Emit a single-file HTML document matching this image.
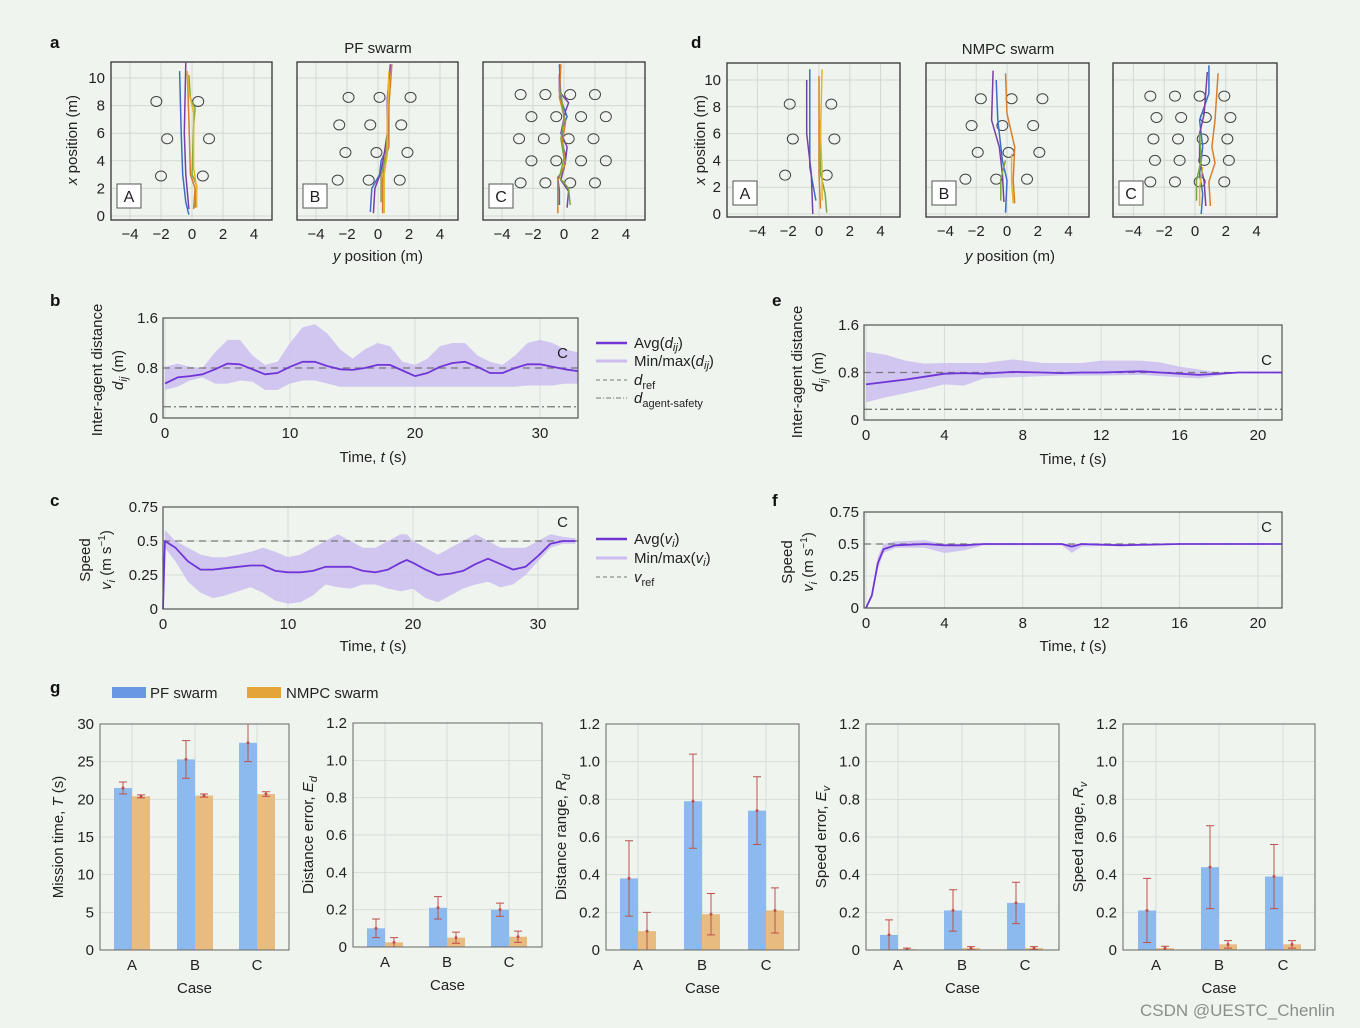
<!DOCTYPE html>
<html><head><meta charset="utf-8"><style>
html,body{margin:0;padding:0;background:#eff4ef;}
svg{display:block;font-family:"Liberation Sans",sans-serif;}
</style></head><body>
<svg id="fig" width="1360" height="1028" viewBox="0 0 1360 1028" xmlns="http://www.w3.org/2000/svg">
<rect x="0" y="0" width="1360" height="1028" fill="#eff4ef"/>
</svg>
<script>
// ---------- DATA ----------
const bT=[0,1,2,3,4,5,6,7,8,9,10,11,12,13,14,15,16,17,18,19,20,21,22,23,24,25,26,27,28,29,30,31,32,33];
const bAvg=[0.55,0.65,0.67,0.7,0.78,0.87,0.86,0.78,0.7,0.72,0.82,0.9,0.9,0.83,0.78,0.77,0.8,0.85,0.85,0.76,0.67,0.72,0.82,0.88,0.9,0.82,0.72,0.72,0.8,0.86,0.86,0.82,0.78,0.75];
const bMax=[0.82,0.87,0.82,0.8,1.05,1.25,1.25,1.0,0.85,0.9,1.2,1.45,1.5,1.35,1.1,0.95,1.1,1.2,1.15,0.9,0.85,0.95,1.15,1.2,1.2,1.0,0.9,0.85,1.0,1.2,1.25,1.2,1.1,1.05];
const bMin=[0.45,0.5,0.6,0.65,0.55,0.55,0.6,0.58,0.45,0.45,0.55,0.6,0.6,0.55,0.5,0.5,0.5,0.5,0.5,0.5,0.5,0.5,0.5,0.5,0.5,0.5,0.5,0.5,0.5,0.52,0.52,0.52,0.55,0.55];
const cT=[0,0.15,1,2,3,4,5,6,7,8,9,10,11,12,13,14,15,16,17,18,19,19.5,20,21,22,23,24,25,26,27,28,29,30,31,32,33];
const cAvg=[0,0.5,0.45,0.35,0.29,0.29,0.3,0.31,0.32,0.32,0.28,0.27,0.27,0.28,0.31,0.31,0.31,0.28,0.27,0.29,0.34,0.36,0.34,0.29,0.25,0.26,0.28,0.33,0.37,0.33,0.29,0.31,0.39,0.48,0.5,0.5];
const cMax=[0,0.58,0.5,0.45,0.4,0.38,0.38,0.4,0.42,0.45,0.42,0.38,0.4,0.45,0.5,0.55,0.5,0.45,0.45,0.5,0.55,0.55,0.5,0.45,0.4,0.45,0.5,0.55,0.5,0.45,0.45,0.45,0.5,0.55,0.53,0.52];
const cMin=[0,0.45,0.35,0.2,0.12,0.08,0.1,0.13,0.16,0.12,0.06,0.04,0.05,0.1,0.18,0.16,0.15,0.18,0.18,0.15,0.13,0.14,0.15,0.08,0.05,0.1,0.15,0.18,0.2,0.16,0.18,0.25,0.35,0.45,0.48,0.48];
const eT=[0,1,2,3,4,5,6,7.5,9,10,11,12,14,15,16,17,18,19,20,21.2];
const eAvg=[0.6,0.64,0.68,0.73,0.78,0.79,0.78,0.81,0.8,0.79,0.8,0.8,0.82,0.8,0.78,0.76,0.78,0.8,0.8,0.8];
const eMax=[1.15,1.1,1.0,0.95,0.96,0.96,0.96,1.02,0.96,0.96,0.96,1.0,1.0,0.97,0.9,0.85,0.8,0.8,0.8,0.8];
const eMin=[0.3,0.38,0.45,0.52,0.6,0.58,0.7,0.72,0.74,0.75,0.75,0.75,0.76,0.74,0.72,0.7,0.75,0.8,0.8,0.8];
const fT=[0,0.3,0.6,0.9,1.5,3,4,5,6,10,10.5,11,13,16,21.2];
const fAvg=[0,0.1,0.35,0.46,0.49,0.5,0.49,0.49,0.5,0.5,0.48,0.5,0.49,0.5,0.5];
const fMax=[0,0.12,0.4,0.5,0.52,0.53,0.5,0.5,0.5,0.5,0.5,0.5,0.5,0.5,0.5];
const fMin=[0,0.08,0.3,0.43,0.47,0.47,0.43,0.45,0.49,0.49,0.43,0.48,0.49,0.5,0.5];

const cases=["A","B","C"];
const tPF=[21.5,25.3,27.5], tPFe=[0.8,2.5,2.5], tNM=[20.4,20.5,20.7], tNMe=[0.2,0.2,0.3];
const edPF=[0.10,0.21,0.20], edPFe=[0.05,0.06,0.035], edNM=[0.025,0.05,0.055], edNMe=[0.025,0.03,0.03];
const rdPF=[0.38,0.79,0.74], rdPFe=[0.2,0.25,0.18], rdNM=[0.10,0.19,0.21], rdNMe=[0.1,0.11,0.12];
const evPF=[0.08,0.21,0.25], evPFe=[0.08,0.11,0.11], evNM=[0.005,0.01,0.01], evNMe=[0.005,0.008,0.008];
const rvPF=[0.21,0.44,0.39], rvPFe=[0.17,0.22,0.17], rvNM=[0.01,0.03,0.03], rvNMe=[0.01,0.02,0.02];

const obsA=[[-2.3,8.3],[0.4,8.3],[-1.6,5.6],[1.1,5.6],[-2,2.9],[0.7,2.9]];
const obsB=[[-1.9,8.6],[0.1,8.6],[2.1,8.6],[-2.5,6.6],[-0.5,6.6],[1.5,6.6],[-2.1,4.6],[-0.1,4.6],[1.9,4.6],[-2.6,2.6],[-0.6,2.6],[1.4,2.6]];
const obsC=[[-2.8,8.8],[-1.2,8.8],[0.4,8.8],[2.0,8.8],[-2.1,7.2],[-0.5,7.2],[1.1,7.2],[2.7,7.2],[-2.9,5.6],[-1.3,5.6],[0.3,5.6],[1.9,5.6],[-2.1,4.0],[-0.5,4.0],[1.1,4.0],[2.7,4.0],[-2.8,2.4],[-1.2,2.4],[0.4,2.4],[2.0,2.4]];
const obsDA=[[-1.9,8.2],[0.8,8.2],[-1.7,5.6],[1.0,5.6],[-2.2,2.9],[0.5,2.9]];
const obsDB=[[-1.7,8.6],[0.3,8.6],[2.3,8.6],[-2.3,6.6],[-0.3,6.6],[1.7,6.6],[-1.9,4.6],[0.1,4.6],[2.1,4.6],[-2.7,2.6],[-0.7,2.6],[1.3,2.6]];
const obsDC=[[-2.9,8.8],[-1.3,8.8],[0.3,8.8],[1.9,8.8],[-2.5,7.2],[-0.9,7.2],[0.7,7.2],[2.3,7.2],[-2.7,5.6],[-1.1,5.6],[0.5,5.6],[2.1,5.6],[-2.6,4.0],[-1.0,4.0],[0.6,4.0],[2.2,4.0],[-2.9,2.4],[-1.3,2.4],[0.3,2.4],[1.9,2.4]];
const trA=[[[-0.2,0.1],[-0.4,1],[-0.6,3],[-0.7,6],[-0.8,10.5]],[[-0.2,0.5],[-0.4,3],[-0.5,6],[-0.4,11.1]],[[0.1,0.5],[0.2,2],[-0.1,3],[-0.2,7],[-0.3,10.4]],[[0.2,0.6],[0.3,2.2],[0,3],[0.1,6.5],[0.2,7.8],[-0.1,8.5],[-0.2,10.2]],[[0.3,0.6],[0.3,2],[0.1,3.5],[0.1,7.5],[-0.2,9],[-0.3,10.5]]];
const trB=[[[-0.5,0.3],[-0.4,2],[0.1,3],[0.2,4],[0.6,5],[0.7,8]],[[-0.3,0.2],[-0.2,2],[0.2,3.2],[0.4,4.5],[0.6,6],[0.6,8.5],[0.8,11]],[[0.3,0.2],[0.3,2.5],[0.4,4],[0.7,5],[0.7,8],[0.9,11]],[[0.2,1],[0.2,3],[0.5,4.2],[0.6,6]],[[0.4,0.2],[0.4,3],[0.6,4.5],[0.6,7],[0.7,10.5]]];
const trC=[[[-0.3,0.8],[-0.3,1.8],[-0.4,2.8],[0,3.4],[0.1,4.4],[-0.1,5.2],[-0.1,6.4],[0.2,7.2],[-0.2,8.4],[-0.3,11]],[[0.2,0.6],[0.3,1.8],[-0.2,2.6],[0.1,4],[0.2,5],[-0.2,6],[0.1,7.6],[0.3,8.2],[-0.3,9],[-0.3,10.3]],[[-0.4,0.2],[-0.4,2.6],[0.1,3.8],[-0.1,5.4],[0.1,6.8],[-0.3,8.6],[-0.2,11]],[[0.4,0.8],[0.3,2],[-0.3,2.8],[0,4.2],[-0.2,5.6],[0,7],[-0.2,9]]];
const trDA=[[[-0.2,1],[-0.6,3.5],[-0.6,8],[-0.6,10.8]],[[-0.4,0],[-0.5,3],[-0.8,6],[-0.8,10]],[[0.1,0.4],[0,3],[0,10.3]],[[0.5,0.1],[0.4,1.5],[0.1,3],[0.1,7]],[[0.2,1],[0.2,3],[0.1,6],[0.2,10.8]]];
const trDB=[[[-0.1,0.1],[0,2.5],[-0.3,4],[-0.6,7],[-0.7,10]],[[-0.2,0.9],[-0.3,3],[-0.5,5],[-1.0,7],[-0.9,10.7]],[[0.5,0.8],[0.4,2.5],[0.5,5],[0,7.5],[-0.1,10.5]],[[-0.4,1],[-0.4,2.6],[-0.1,4]],[[0.4,0.8],[0.3,2.5],[0.3,4.5]]];
const trDC=[[[0.4,0],[0.5,1.5],[0.3,3],[0.5,5],[0.3,7],[0.9,9],[0.9,11.1]],[[0.7,0.6],[0.6,2.4],[0.3,4],[0.3,6],[0.6,7.5],[0.8,10.6]],[[1.0,0.6],[0.9,2.4],[1.3,3.8],[1.1,5],[1.3,7],[1.5,10.5]],[[0.1,1],[0.1,2.5],[0.4,4],[0.3,6]],[[0.3,0.6],[0.3,2],[0.5,3.5]]];

// ---------- HELPERS ----------
const NS="http://www.w3.org/2000/svg";
const svg=document.getElementById('fig');
function E(tag,a,p){const el=document.createElementNS(NS,tag);for(const k in a)el.setAttribute(k,a[k]);(p||svg).appendChild(el);return el;}
function T(x,y,s,a,p){const el=E('text',Object.assign({x:x,y:y,'font-size':15,fill:'#222'},a||{}),p);el.innerHTML=s;return el;}
function grp(name){const g=E('g',{});return g;}

// panel letters
[["a",50,48],["d",691,48],["b",50,306],["c",50,506],["e",772,306],["f",772,506],["g",50,693]].forEach(function(l){
  const el=T(l[1],l[2],l[0],{'font-weight':'bold','font-size':17,fill:'#111'});
  
  
});

// ---------- TRAJECTORY PANELS ----------
const trajColors=['#3b6fc6','#7a3fa3','#d97e2c','#79a83b','#e2b52a'];
function traj(name,x0,x1,yTop,yBot,zx,zyPix,ppmX,ppmY,obs,tr,letter,showY){
  const g=grp(name);
  const sx=function(v){return zx+v*ppmX;}, sy=function(v){return zyPix-v*ppmY;};
  [-4,-2,0,2,4].forEach(function(v){const l=E('line',{x1:sx(v),x2:sx(v),y1:yTop,y2:yBot,stroke:'#d3d8d3','stroke-width':1},g);
    const t=T(sx(v),yBot+19,v<0?'\u2212'+(-v):v,{'text-anchor':'middle'},g);});
  [0,2,4,6,8,10].forEach(function(v){const l=E('line',{x1:x0,x2:x1,y1:sy(v),y2:sy(v),stroke:'#d3d8d3','stroke-width':1},g);
    if(showY){const t=T(x0-6,sy(v)+5,v,{'text-anchor':'end'},g);}});
  obs.forEach(function(o){const c=E('ellipse',{cx:sx(o[0]),cy:sy(o[1]),rx:5.5,ry:5,fill:'none',stroke:'#444','stroke-width':1},g);});
  tr.forEach(function(path,i){const d=path.map(function(p,j){return (j?'L':'M')+sx(p[0]).toFixed(1)+','+sy(p[1]).toFixed(1);}).join('');
    const pl=E('path',{d:d,fill:'none',stroke:trajColors[i%5],'stroke-width':1.5},g);});
  const bx=E('rect',{x:x0+6,y:yBot-36,width:24,height:24,fill:'#fff',stroke:'#555','stroke-width':1},g);
  const bt=T(x0+18,yBot-18,letter,{'text-anchor':'middle','font-size':16},g);
  const fr=E('rect',{x:x0,y:yTop,width:x1-x0,height:yBot-yTop,fill:'none',stroke:'#333','stroke-width':1.3},g);
}
traj('traj-pf-a',111,272,62,220,192,216,15.5,13.8,obsA,trA,'A',true);
traj('traj-pf-b',297,458,62,220,378,216,15.5,13.8,obsB,trB,'B',false);
traj('traj-pf-c',483,645,62,220,564,216,15.5,13.8,obsC,trC,'C',false);
traj('traj-nmpc-a',727,900,63,217,819,214,15.4,13.4,obsDA,trDA,'A',true);
traj('traj-nmpc-b',926,1089,63,217,1007,214,15.4,13.4,obsDB,trDB,'B',false);
traj('traj-nmpc-c',1113,1277,63,217,1195,214,15.4,13.4,obsDC,trDC,'C',false);
[[378,53,'PF swarm','title-pf-swarm'],[1008,54,'NMPC swarm','title-nmpc-swarm'],[378,261,'<tspan font-style="italic">y</tspan> position (m)','x-axis-title-a'],[1010,261,'<tspan font-style="italic">y</tspan> position (m)','x-axis-title-d']].forEach(function(a){
  const t=T(a[0],a[1],a[2],{'text-anchor':'middle'});});
[[77,140,'y-axis-title-a'],[705,140,'y-axis-title-d']].forEach(function(a){
  const t=T(a[0],a[1],'<tspan font-style="italic">x</tspan> position (m)',{'text-anchor':'middle',transform:'rotate(-90 '+a[0]+' '+a[1]+')'});});

// ---------- TIME SERIES ----------
function ts(name,x0,x1,yTop,yBot,t0px,pps,ymax,yticks,xticks,tArr,avg,mx,mn,refs){
  const g=grp(name);
  const sx=function(v){return t0px+v*pps;}, sy=function(v){return yBot-(v/ymax)*(yBot-yTop);};
  xticks.forEach(function(v){const l=E('line',{x1:sx(v),x2:sx(v),y1:yTop,y2:yBot,stroke:'#d8ddd8'},g);
    const t=T(sx(v),yBot+20,v,{'text-anchor':'middle'},g);});
  yticks.forEach(function(v){const l=E('line',{x1:x0,x2:x1,y1:sy(v),y2:sy(v),stroke:'#d8ddd8'},g);
    const t=T(x0-5,sy(v)+5,v,{'text-anchor':'end'},g);});
  let d='';tArr.forEach(function(t,i){d+=(i?'L':'M')+sx(t).toFixed(1)+','+sy(mx[i]).toFixed(1);});
  for(let i=tArr.length-1;i>=0;i--)d+='L'+sx(tArr[i]).toFixed(1)+','+sy(mn[i]).toFixed(1);
  const band=E('path',{d:d+'Z',fill:'#cbbdf0','fill-opacity':0.85},g);
  refs.forEach(function(r){const l=E('line',{x1:x0,x2:x1,y1:sy(r[0]),y2:sy(r[0]),stroke:'#777','stroke-width':1.3,'stroke-dasharray':r[1]},g);});
  const ad=tArr.map(function(t,i){return (i?'L':'M')+sx(t).toFixed(1)+','+sy(avg[i]).toFixed(1);}).join('');
  const al=E('path',{d:ad,fill:'none',stroke:'#7035d6','stroke-width':1.8,'stroke-linejoin':'round'},g);
  const fr=E('rect',{x:x0,y:yTop,width:x1-x0,height:yBot-yTop,fill:'none',stroke:'#555','stroke-width':1.2},g);
  const c=T(x1-10,yTop+(name.indexOf('speed')>=0?20:40),'C',{'text-anchor':'end'},g);
}
ts('pf-distance-chart',163,578,318,418,165,12.5,1.6,[0,0.8,1.6],[0,10,20,30],bT,bAvg,bMax,bMin,[[0.8,'7,5','d-ref-line'],[0.18,'8,3,2,3','d-safety-line']]);
ts('pf-speed-chart',163,578,507,609,163,12.5,0.75,[0,0.25,0.5,0.75],[0,10,20,30],cT,cAvg,cMax,cMin,[[0.5,'7,5','v-ref-line']]);
ts('nmpc-distance-chart',864,1282,325,420,866,19.6,1.6,[0,0.8,1.6],[0,4,8,12,16,20],eT,eAvg,eMax,eMin,[[0.8,'7,5','d-ref-line'],[0.18,'8,3,2,3','d-safety-line']]);
ts('nmpc-speed-chart',864,1282,512,608,866,19.6,0.75,[0,0.25,0.5,0.75],[0,4,8,12,16,20],fT,fAvg,fMax,fMin,[[0.5,'7,5','v-ref-line']]);
[[373,462],[373,651],[1073,464],[1073,651]].forEach(function(p){const t=T(p[0],p[1],'Time, <tspan font-style="italic">t</tspan> (s)',{'text-anchor':'middle'});});
[[102,370,'Inter-agent distance','distance-axis-title'],[123,370,'<tspan font-style="italic">d<tspan font-size="11" dy="4">ij</tspan></tspan><tspan dy="-4"> (m)</tspan>','distance-axis-symbol'],[90,560,'Speed','speed-axis-title'],[111,560,'<tspan font-style="italic">v<tspan font-size="11" dy="4">i</tspan></tspan><tspan dy="-4"> (m s</tspan><tspan font-size="10" dy="-6">\u22121</tspan><tspan dy="6">)</tspan>','speed-axis-symbol'],
 [802,372,'Inter-agent distance','distance-axis-title'],[823,372,'<tspan font-style="italic">d<tspan font-size="11" dy="4">ij</tspan></tspan><tspan dy="-4"> (m)</tspan>','distance-axis-symbol'],[792,562,'Speed','speed-axis-title'],[813,562,'<tspan font-style="italic">v<tspan font-size="11" dy="4">i</tspan></tspan><tspan dy="-4"> (m s</tspan><tspan font-size="10" dy="-6">\u22121</tspan><tspan dy="6">)</tspan>','speed-axis-symbol']].forEach(function(a){
  const t=T(a[0],a[1],a[2],{'text-anchor':'middle',transform:'rotate(-90 '+a[0]+' '+a[1]+')'});});

// legends
function legItem(x,y,kind,label){
  const g=grp('legend-entry');
  let l;
  if(kind==='avg')l=E('line',{x1:x,x2:x+31,y1:y,y2:y,stroke:'#7035d6','stroke-width':2.5},g);
  else if(kind==='band')l=E('line',{x1:x,x2:x+31,y1:y,y2:y,stroke:'#cbbdf0','stroke-width':3},g);
  else if(kind==='dash')l=E('line',{x1:x,x2:x+31,y1:y,y2:y,stroke:'#777','stroke-width':1,'stroke-dasharray':'4,3'},g);
  else l=E('line',{x1:x,x2:x+31,y1:y,y2:y,stroke:'#777','stroke-width':1,'stroke-dasharray':'5,2,1,2'},g);
  
  const t=T(x+38,y+5,label,{},g);
}
legItem(596,343,'avg','Avg(<tspan font-style="italic">d<tspan font-size="11" dy="3">ij</tspan></tspan><tspan dy="-3">)</tspan>');
legItem(596,361,'band','Min/max(<tspan font-style="italic">d<tspan font-size="11" dy="3">ij</tspan></tspan><tspan dy="-3">)</tspan>');
legItem(596,380,'dash','<tspan font-style="italic">d</tspan><tspan font-size="11" dy="4">ref</tspan>');
legItem(596,398,'dashdot','<tspan font-style="italic">d</tspan><tspan font-size="11" dy="4">agent-safety</tspan>');
legItem(596,539,'avg','Avg(<tspan font-style="italic">v<tspan font-size="11" dy="3">i</tspan></tspan><tspan dy="-3">)</tspan>');
legItem(596,558,'band','Min/max(<tspan font-style="italic">v<tspan font-size="11" dy="3">i</tspan></tspan><tspan dy="-3">)</tspan>');
legItem(596,577,'dash','<tspan font-style="italic">v</tspan><tspan font-size="11" dy="4">ref</tspan>');

// ---------- BAR CHARTS ----------
(function(){
  const g=grp('bar-legend');
  let r=E('rect',{x:112,y:687,width:34,height:11,fill:'#6a97e3'},g);
  let t=T(150,698,'PF swarm',{},g);
  r=E('rect',{x:247,y:687,width:34,height:11,fill:'#e3a53a'},g);
  t=T(286,698,'NMPC swarm',{},g);
})();
function bars(name,x0,x1,yTop,yBot,ymax,yticks,fmt,centers,pf,pfe,nm,nme,ylab,ylx){
  const g=grp(name);
  const sy=function(v){return yBot-(v/ymax)*(yBot-yTop);};
  centers.forEach(function(c){const l=E('line',{x1:c,x2:c,y1:yTop,y2:yBot,stroke:'#d8ddd8'},g);});
  yticks.forEach(function(v){const l=E('line',{x1:x0,x2:x1,y1:sy(v),y2:sy(v),stroke:'#d8ddd8'},g);
    const t=T(x0-6,sy(v)+5,fmt(v),{'text-anchor':'end'},g);});
  const bw=18;
  cases.forEach(function(cs,i){
    const c=centers[i];
    let b=E('rect',{x:c-bw,y:sy(pf[i]),width:bw,height:yBot-sy(pf[i]),fill:'#8dbaee'},g);
    b=E('rect',{x:c,y:sy(nm[i]),width:bw,height:yBot-sy(nm[i]),fill:'#e8bb80'},g);
    [[c-bw/2,pf[i],pfe[i]],[c+bw/2,nm[i],nme[i]]].forEach(function(e){
      const lo=Math.max(0,e[1]-e[2]),hi=Math.min(ymax,e[1]+e[2]);
      const p=E('path',{d:'M'+e[0]+','+sy(lo)+'V'+sy(hi)+'M'+(e[0]-4)+','+sy(lo)+'h8M'+(e[0]-4)+','+sy(hi)+'h8',stroke:'#c0504d','stroke-width':1,fill:'none'},g);
      const d=E('circle',{cx:e[0],cy:sy(e[1]),r:1.5,fill:'#c0504d'},g);
    });
    const t=T(c,yBot+20,cs,{'text-anchor':'middle'},g);
  });
  const fr=E('rect',{x:x0,y:yTop,width:x1-x0,height:yBot-yTop,fill:'none',stroke:'#666','stroke-width':1},g);
  const ct=T((x0+x1)/2,yBot+43,'Case',{'text-anchor':'middle'},g);
  const yc=(yTop+yBot)/2;
  const yt=T(ylx,yc,ylab,{'text-anchor':'middle',transform:'rotate(-90 '+ylx+' '+yc+')'},g);
}
const f1=function(v){return v===0?'0':v.toFixed(1);};
const sub=function(a,b){return a+'<tspan font-style="italic">'+b[0]+'<tspan font-size="11" dy="4">'+b[1]+'</tspan></tspan>';};
bars('mission-time-chart',100,289,724,950,30,[0,5,10,15,20,25,30],function(v){return v;},[132,195,257],tPF,tPFe,tNM,tNMe,'Mission time, <tspan font-style="italic">T</tspan> (s)',63);
bars('distance-error-chart',353,542,723,947,1.2,[0,0.2,0.4,0.6,0.8,1.0,1.2],f1,[385,447,509],edPF,edPFe,edNM,edNMe,sub('Distance error, ','Ed'),313);
bars('distance-range-chart',606,799,724,950,1.2,[0,0.2,0.4,0.6,0.8,1.0,1.2],f1,[638,702,766],rdPF,rdPFe,rdNM,rdNMe,sub('Distance range, ','Rd'),566);
bars('speed-error-chart',866,1059,724,950,1.2,[0,0.2,0.4,0.6,0.8,1.0,1.2],f1,[898,962,1025],evPF,evPFe,evNM,evNMe,sub('Speed error, ','Ev'),826);
bars('speed-range-chart',1123,1315,724,950,1.2,[0,0.2,0.4,0.6,0.8,1.0,1.2],f1,[1156,1219,1283],rvPF,rvPFe,rvNM,rvNMe,sub('Speed range, ','Rv'),1083);

const wm=T(1140,1016,'CSDN @UESTC_Chenlin',{'font-size':17,fill:'#8a8f8a'});


</script>
</body></html>
